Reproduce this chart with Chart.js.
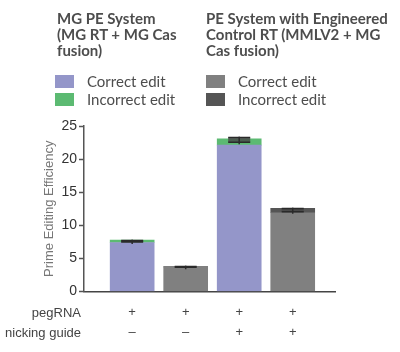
<!DOCTYPE html>
<html>
<head>
<meta charset="utf-8">
<script src="https://cdn.jsdelivr.net/npm/chart.js@4.4.0/dist/chart.umd.min.js"></script>
<style>
  body { margin: 0; background: #fff; }
  #wrap { position: relative; width: 400px; height: 352px; overflow: hidden; }
  #chart { position: absolute; left: 0; top: 0; }
  .group { position: absolute; top: 10px; font-family: "Lato", sans-serif; color: #4d4d4d; }
  .group h4 { margin: 0; font-size: 15px; font-weight: 700; line-height: 16px; white-space: nowrap; }
  .item { position: absolute; left: 0; font-size: 15px; line-height: 18px; white-space: nowrap; }
  .item span { position: absolute; left: 0; top: 3px; width: 19px; height: 13px; }
  .item b { font-weight: 400; position: absolute; left: 32px; top: 0; }
</style>
</head>
<body>
<div id="wrap">
  <canvas id="chart" width="400" height="352"></canvas>
  <div class="group" style="left:57px;width:140px">
    <h4>MG PE System<br>(MG RT + MG Cas<br>fusion)</h4>
  </div>
  <div class="group" style="left:206px;width:194px">
    <h4>PE System with Engineered<br>Control RT (MMLV2 + MG<br>Cas fusion)</h4>
  </div>
  <div id="legendA" class="group" style="left:55px;top:72px"></div>
  <div id="legendB" class="group" style="left:206px;top:72px"></div>
</div>
<script>
// Data
const categories = ['MG PE -nick', 'Control -nick', 'MG PE +nick', 'Control +nick'];
const correctEdit = [7.4, 3.7, 22.1, 11.9];
const incorrectEdit = [0.35, 0.05, 0.95, 0.65];
const errMean = [7.6, 3.72, 22.9, 12.3];
const errSd = [0.12, 0.07, 0.35, 0.25];
const pegRNA = ['+', '+', '+', '+'];
const nickingGuide = ['\u2013', '\u2013', '+', '+'];
const yTicks = [0, 5, 10, 15, 20, 25];

// Colours
const purple = '#9496c9';
const green = '#5cba72';
const gray = '#808080';
const darkGray = '#555555';
const correctColors = [purple, gray, purple, gray];
const incorrectColors = [green, darkGray, green, darkGray];

// Legend
function legendItems(id, c1, c2) {
    const el = document.getElementById(id);
    el.innerHTML = `
        <div class="item" style="top:0"><span style="background:${c1}"></span><b>Correct edit</b></div>
        <div class="item" style="top:18px"><span style="background:${c2}"></span><b>Incorrect edit</b></div>
    `;
}
legendItems('legendA', purple, green);
legendItems('legendB', gray, darkGray);

// Error bars and row titles under the axis
const extrasPlugin = {
    id: 'extras',
    afterDatasetsDraw(chart) {
        const ctx = chart.ctx;
        const x = chart.scales.x;
        const y = chart.scales.y;
        ctx.save();
        categories.forEach((c, i) => {
            const cx = x.getPixelForValue(i + 1);
            const hi = y.getPixelForValue(errMean[i] + errSd[i]);
            const lo = y.getPixelForValue(errMean[i] - errSd[i]);
            ctx.fillStyle = 'rgba(70,70,70,0.8)';
            ctx.fillRect(cx - 11, hi, 22, lo - hi);
            ctx.strokeStyle = '#2a2a2a';
            ctx.lineWidth = 1.5;
            ctx.beginPath();
            ctx.moveTo(cx - 11, hi); ctx.lineTo(cx + 11, hi);
            ctx.moveTo(cx - 11, lo); ctx.lineTo(cx + 11, lo);
            ctx.moveTo(cx, hi - 1); ctx.lineTo(cx, lo + 2);
            ctx.stroke();
        });
        ctx.restore();
    },
    afterDraw(chart) {
        const ctx = chart.ctx;
        ctx.save();
        ctx.font = '13px "Liberation Sans", Arial, sans-serif';
        ctx.fillStyle = '#444';
        ctx.textAlign = 'right';
        ctx.textBaseline = 'middle';
        ctx.fillText('pegRNA', 81, 313);
        ctx.fillText('nicking guide', 81, 333);
        ctx.restore();
    }
};

new Chart(document.getElementById('chart'), {
    type: 'bar',
    data: {
        datasets: [{
            label: 'Correct edit',
            data: correctEdit.map((v, i) => ({ x: i + 1, y: v })),
            backgroundColor: correctColors,
            barThickness: 44
        }, {
            label: 'Incorrect edit',
            data: incorrectEdit.map((v, i) => ({ x: i + 1, y: v })),
            backgroundColor: incorrectColors,
            barThickness: 44
        }]
    },
    options: {
        responsive: false,
        animation: false,
        layout: { padding: { top: 126, right: 65, left: 0, bottom: 0 } },
        plugins: { legend: { display: false }, tooltip: { enabled: false } },
        scales: {
            x: {
                type: 'linear',
                stacked: true,
                offset: false,
                min: 0.1,
                max: 4.79,
                afterFit: scale => { scale.height = 60.5; },
                afterBuildTicks: scale => {
                    scale.ticks = categories.map((c, i) => ({ value: i + 1 }));
                },
                grid: { display: false, drawTicks: false },
                border: { display: true, color: '#444', width: 1.5, dash: [2, 1] },
                ticks: {
                    padding: 11,
                    color: '#444',
                    font: { family: '"Liberation Sans", Arial, sans-serif', size: 13, lineHeight: 1.54 },
                    maxRotation: 0,
                    callback: v => [pegRNA[v - 1], nickingGuide[v - 1]]
                }
            },
            y: {
                stacked: true,
                min: 0,
                max: 25,
                afterFit: scale => { scale.width = 84; },
                afterBuildTicks: scale => {
                    scale.ticks = yTicks.map(v => ({ value: v }));
                },
                grid: { drawOnChartArea: false, tickLength: 5, tickColor: '#555', tickWidth: 1.5 },
                border: { color: '#555', width: 1.5 },
                ticks: {
                    padding: 2,
                    color: '#333',
                    font: { family: '"Liberation Sans", Arial, sans-serif', size: 14 }
                },
                title: {
                    display: true,
                    text: 'Prime Editing Efficiency',
                    color: '#777',
                    padding: { top: 42, bottom: 0 },
                    font: { family: '"Liberation Sans", Arial, sans-serif', size: 13 }
                }
            }
        }
    },
    plugins: [extrasPlugin]
});
</script>
</body>
</html>
